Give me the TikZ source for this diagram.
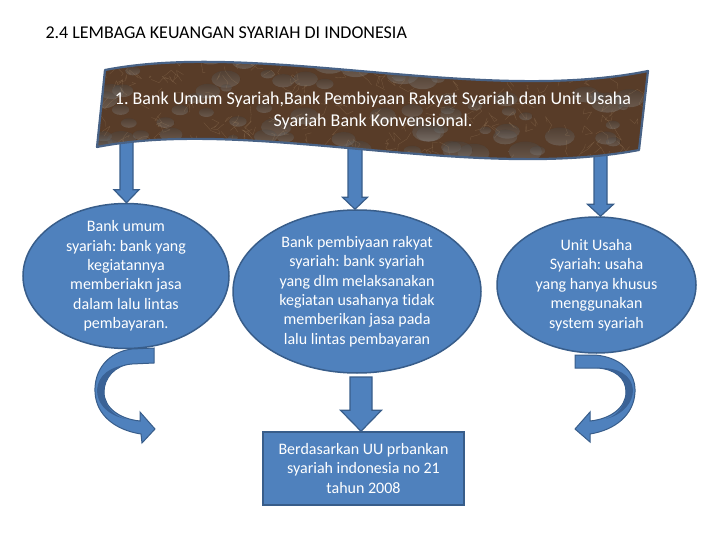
\documentclass[tikz,border=0pt]{standalone}
\usepackage{fontspec}
\setmainfont{Carlito}[Ligatures={NoCommon,NoContextual}]
\frenchspacing
\usetikzlibrary{shapes.geometric,calc}

\definecolor{ppblue}{RGB}{79,129,189}
\definecolor{ppedge}{RGB}{56,93,138}
\definecolor{ppdark}{RGB}{58,98,150}
\definecolor{marble}{RGB}{88,60,40}
\definecolor{vein}{RGB}{176,146,110}
\definecolor{shade}{RGB}{40,26,18}
\definecolor{bannerline}{RGB}{72,98,134}

\tikzset{
  bubble/.style={ellipse, draw=ppedge, fill=ppblue, line width=1.5pt, inner sep=0pt},
  bubbletext/.style={text=white, align=center, font=\fontsize{16}{19.4}\selectfont},
  plainbox/.style={rectangle, draw=ppedge, fill=ppblue, line width=1.5pt, text=white,
    align=center, font=\fontsize{16}{19.4}\selectfont},
  arrowblock/.style={draw=ppedge, fill=ppblue, line width=1.2pt, line join=miter},
  bannertext/.style={text=white, align=center, font=\fontsize{18}{22}\selectfont}
}

% block arrow: from, to, shaft half width, head half width, head length
\newcommand\blockarrow[5]{%
  \filldraw[arrowblock] let \p1=(#1), \p2=(#2) in
    (\x1-#3pt,\y1) -- (\x1-#3pt,\y2+#5pt) -- (\x1-#4pt,\y2+#5pt) -- (\x1,\y2)
    -- (\x1+#4pt,\y2+#5pt) -- (\x1+#3pt,\y2+#5pt) -- (\x1+#3pt,\y1) -- cycle;}

\begin{document}
\begin{tikzpicture}[x=1pt, y=-1pt]
  \useasboundingbox (0,0) rectangle (720,540);

  % title
  \node[anchor=west, font=\fontsize{18}{22}\selectfont] (title) at (42,33)
    {2.4 LEMBAGA KEUANGAN SYARIAH DI INDONESIA};

  % ellipses and box
  \node[bubble, minimum width=206pt, minimum height=145pt,
    label={[bubbletext]center:{Bank umum\\syariah: bank yang\\kegiatannya\\memberiakn jasa\\dalam lalu lintas\\pembayaran.}}]
    (umum) at (126,276) {};
  \node[bubble, minimum width=248pt, minimum height=163pt,
    label={[bubbletext]center:{Bank pembiyaan rakyat\\syariah: bank syariah\\yang dlm melaksanakan\\kegiatan usahanya tidak\\memberikan jasa pada\\lalu lintas pembayaran}}]
    (rakyat) at (357,291.5) {};
  \node[bubble, minimum width=199pt, minimum height=136pt,
    label={[bubbletext]center:{Unit Usaha\\Syariah: usaha\\yang hanya khusus\\menggunakan\\system syariah}}]
    (unit) at (596.5,285) {};
  \node[plainbox, minimum width=201pt, minimum height=73pt] (uu) at (363.5,468.5)
    {Berdasarkan UU prbankan\\syariah indonesia no 21\\tahun 2008};

  % arrows from the banner
  \coordinate (bnL) at (126.5,130);
  \coordinate (bnM) at (355,135);
  \coordinate (bnR) at (600.5,135);
  \blockarrow{bnL}{umum.north}{6.5}{12.5}{13}
  \blockarrow{bnM}{rakyat.north}{7}{12.5}{12}
  \blockarrow{bnR}{unit.north}{6.5}{13}{12}
  \coordinate (rkB) at (361,377);
  \blockarrow{rkB}{uu.north}{11}{20.5}{21}

  % banner
  \begin{scope}
    \clip (105,70) .. controls (260,40) and (480,105) .. (648,71) -- (639,150)
      .. controls (470,182) and (250,117) .. (97,147) -- cycle;
    \fill[marble] (90,40) rectangle (660,190);
    \pgfmathsetseed{11}
    \foreach \i in {1,...,90} {
      \pgfmathsetmacro\xa{95+560*rnd}
      \pgfmathsetmacro\ya{50+125*rnd}
      \pgfmathsetmacro\ra{5+12*rnd}
      \fill[shade, opacity=0.2] (\xa,\ya) ellipse (\ra pt and 0.6*\ra pt);
    }
    \foreach \i in {1,...,220} {
      \pgfmathsetmacro\xa{95+560*rnd}
      \pgfmathsetmacro\ya{50+125*rnd}
      \draw[vein, opacity=0.3, line width=0.35pt, line join=round]
        (\xa,\ya) -- ++(9*rand,9*rand) -- ++(9*rand,9*rand) -- ++(8*rand,8*rand);
    }
  \end{scope}
  \draw[bannerline, line width=2.2pt, line join=round]
    (105,70) .. controls (260,40) and (480,105) .. (648,71) -- (639,150)
    .. controls (470,182) and (250,117) .. (97,147) -- cycle;
  \node[bannertext] (banner) at (373,111)
    {1. Bank Umum Syariah,Bank Pembiyaan Rakyat Syariah dan Unit Usaha\\Syariah Bank Konvensional.};

  % curved arrow, left
  \filldraw[arrowblock, line width=1pt]
    (154,348) -- (132,349) .. controls (108,352) and (94,370) .. (95,392)
    .. controls (96,415) and (115,430) .. (141,434) -- (142,443) -- (155,429) -- (140,412)
    -- (140,421) .. controls (120,419) and (104,408) .. (104,392)
    .. controls (104,378) and (115,365) .. (132,364) -- (154,363) -- cycle;
  \fill[ppdark] (132,364) .. controls (115,365) and (104,378) .. (104,392)
    .. controls (104,405) and (112,415) .. (125,419)
    .. controls (105,414) and (97,402) .. (97,390)
    .. controls (98,375) and (110,366) .. (132,364) -- cycle;

  % curved arrow, right
  \filldraw[arrowblock, line width=1pt]
    (575,355) -- (595,355) .. controls (620,357) and (636,372) .. (635,392)
    .. controls (634,415) and (615,430) .. (590,434) -- (590,442) -- (575,429) -- (590,412)
    -- (590,421) .. controls (610,419) and (626,408) .. (626,392)
    .. controls (626,378) and (615,369) .. (597,368) -- (575,368) -- cycle;
  \fill[ppdark] (597,368) .. controls (615,369) and (626,378) .. (626,392)
    .. controls (626,405) and (618,415) .. (606,419)
    .. controls (624,414) and (633,402) .. (633,390)
    .. controls (632,375) and (618,367) .. (597,368) -- cycle;
\end{tikzpicture}
\end{document}
